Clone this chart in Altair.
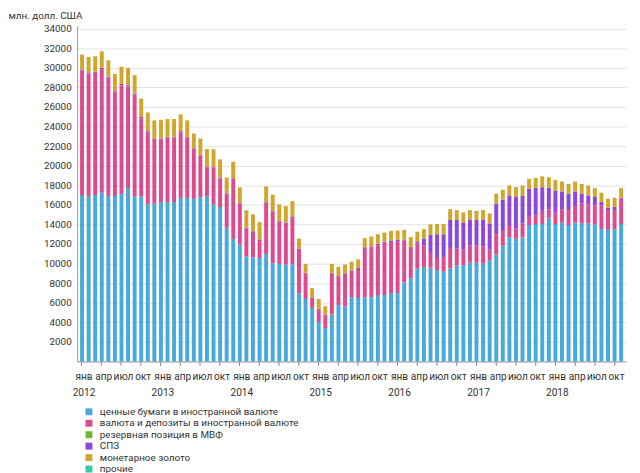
import altair as alt
import pandas as pd

# months Jan 2012 .. Nov 2018
months = [f"{y}-{m:02d}" for y in range(2012, 2019) for m in range(1, 13)][:83]

securities = [
    17000, 16910, 17010, 17280, 16910, 16910, 17120, 17720, 16850, 16850, 16040, 16110,
    16280, 16280, 16280, 16710, 16710, 16610, 16780, 16850, 16030, 15770, 13660, 12520,
    11980, 10740, 10640, 10570, 10970, 10030, 9970, 9900, 9900, 6980, 6380, 5470,
    4030, 3420, 4800, 5770, 5600, 6570, 6480, 6550, 6550, 6790, 6790, 6990,
    6990, 8060, 8500, 9480, 9640, 9580, 9340, 9170, 9480, 9810, 9840, 10080,
    10080, 9980, 10300, 10920, 11830, 12700, 12530, 12670, 13940, 14040, 14040, 14680,
    14040, 14180, 13940, 14180, 14110, 14110, 14010, 13540, 13440, 13510, 14040,
]
deposits = [
    12740, 12520, 12490, 12570, 12090, 10680, 11090, 10350, 10410, 7970, 7390, 6510,
    6430, 6590, 6590, 6670, 6160, 5090, 4250, 2940, 3790, 2960, 3460, 6150,
    4140, 2860, 2620, 1850, 5250, 5280, 4330, 4240, 4870, 4520, 2640, 1040,
    1310, 1320, 4220, 2920, 3240, 2690, 2860, 4950, 5130, 5070, 5390, 5200,
    5240, 4290, 3110, 2550, 2190, 1510, 1240, 1510, 2110, 1710, 1580, 1750,
    1750, 1780, 1120, 2080, 1510, 1140, 1080, 1440, 840, 910, 1350, 840,
    1150, 1380, 1520, 1710, 2020, 1920, 1950, 2420, 2020, 1880, 2630,
]
imf_position = [
    1, 1, 1, 1, 1, 1, 1, 1, 1, 1, 1, 1,
    1, 1, 1, 1, 1, 1, 1, 1, 1, 1, 1, 1,
    1, 1, 1, 1, 1, 1, 1, 1, 1, 1, 1, 1,
    1, 1, 1, 1, 1, 1, 1, 1, 1, 1, 1, 1,
    1, 1, 1, 1, 1, 1, 1, 1, 1, 1, 1, 1,
    1, 1, 1, 1, 1, 1, 1, 1, 1, 1, 1, 1,
    1, 1, 1, 1, 1, 1, 1, 1, 1, 1, 1,
]
sdr = [
    100, 100, 100, 150, 100, 100, 150, 150, 100, 150, 100, 100,
    80, 80, 80, 150, 80, 80, 80, 80, 80, 60, 60, 60,
    60, 60, 60, 60, 60, 60, 60, 60, 60, 40, 40, 30,
    30, 30, 40, 40, 150, 60, 200, 160, 80, 170, 80, 170,
    200, 80, 80, 230, 700, 1850, 2420, 2320, 2860, 2930, 2790, 2690,
    2620, 2760, 2690, 3130, 3190, 3130, 3190, 2790, 2860, 2790, 2420, 2220,
    2280, 1810, 1680, 1480, 1010, 940, 840, 340, 260, 400, 60,
]
gold = [
    1510, 1580, 1580, 1680, 1670, 1675, 1740, 1780, 1900, 1880, 1910, 1910,
    1910, 1820, 1820, 1710, 1680, 1510, 1680, 1840, 1780, 1850, 1610, 1670,
    1610, 1780, 1710, 1750, 1610, 1680, 1680, 1670, 1550, 1010, 910, 940,
    1010, 870, 910, 940, 910, 870, 880, 940, 1010, 970, 910, 980,
    940, 1010, 1010, 1010, 980, 1070, 1050, 1050, 1110, 1010, 1010, 940,
    940, 940, 1010, 1010, 1010, 1010, 1010, 1080, 1010, 1010, 1110, 1080,
    1080, 1010, 1000, 1010, 1000, 1010, 910, 940, 910, 940, 980,
]
other = [
    1, 1, 1, 1, 1, 1, 1, 1, 1, 1, 1, 1,
    1, 1, 1, 1, 1, 1, 1, 1, 1, 1, 1, 1,
    1, 1, 1, 1, 1, 1, 1, 1, 1, 1, 1, 1,
    1, 1, 1, 1, 1, 1, 1, 1, 1, 1, 1, 1,
    1, 1, 1, 1, 1, 1, 1, 1, 1, 1, 1, 1,
    1, 1, 1, 1, 1, 1, 1, 1, 1, 1, 1, 1,
    1, 1, 1, 1, 1, 1, 1, 1, 1, 1, 1,
]

series_names = [
    "ценные бумаги в иностранной валюте",
    "валюта и депозиты в иностранной валюте",
    "резервная позиция в МВФ",
    "СПЗ",
    "монетарное золото",
    "прочие",
]
colors = ["#47A9DC", "#DE4A8E", "#72B62E", "#8E46DB", "#D1A62C", "#33CBA8"]
series_values = [securities, deposits, imf_position, sdr, gold, other]

rows = []
for idx, (name, vals) in enumerate(zip(series_names, series_values)):
    for m, v in zip(months, vals):
        rows.append({"month": m, "series": name, "value": v, "idx": idx})
df = pd.DataFrame(rows)

quarter_months = [m for m in months if m[5:7] in ("01", "04", "07", "10")]

label_expr = (
    "substring(datum.value,5,7)=='01' ? ['янв', substring(datum.value,0,4)] : "
    "substring(datum.value,5,7)=='04' ? 'апр' : "
    "substring(datum.value,5,7)=='07' ? 'июл' : 'окт'"
)

chart = alt.Chart(df).mark_bar().encode(
    x=alt.X(
        "month:O",
        sort=months,
        scale=alt.Scale(paddingInner=0.4, paddingOuter=0.45),
        axis=alt.Axis(
            values=quarter_months,
            labelExpr=label_expr,
            labelAngle=0,
            title=None,
            grid=False,
            domainColor="#888888",
            tickColor="#888888",
            tickSize=4,
            labelPadding=6,
            labelFontSize=10.2,
            labelLineHeight=16,
            labelColor="#333333",
            labelOffset=2,
        ),
    ),
    y=alt.Y(
        "value:Q",
        stack="zero",
        scale=alt.Scale(domain=[0, 34300], nice=False),
        axis=alt.Axis(
            values=list(range(2000, 34001, 2000)),
            format="d",
            title="млн. долл. США",
            titleAngle=0,
            titleAlign="left",
            titleBaseline="top",
            titleX=-70,
            titleY=-15,
            titleFontSize=10,
            titleFontWeight="normal",
            titleColor="#333333",
            ticks=False,
            labelPadding=6,
            labelFontSize=10,
            labelColor="#333333",
            gridColor="#e3e3e3",
            domainColor="#999999",
        ),
    ),
    color=alt.Color(
        "series:N",
        scale=alt.Scale(domain=series_names, range=colors),
        legend=alt.Legend(
            orient="none",
            legendX=7,
            legendY=386,
            title=None,
            symbolType="square",
            symbolSize=49,
            symbolStrokeWidth=0,
            labelFontSize=10,
            labelLimit=0,
            labelOffset=6,
            labelColor="#333333",
            rowPadding=1.6,
            direction="vertical",
        ),
    ),
    order=alt.Order("idx:Q", sort="ascending"),
).properties(
    width=556,
    height=340,
    autosize=alt.AutoSizeParams(type="none"),
    padding={"left": 70, "top": 15, "right": 6, "bottom": 110},
).configure(
    font="Roboto",
).configure_view(
    stroke=None,
)

chart.save("out.html", embed_options={"renderer": "svg", "actions": False})
